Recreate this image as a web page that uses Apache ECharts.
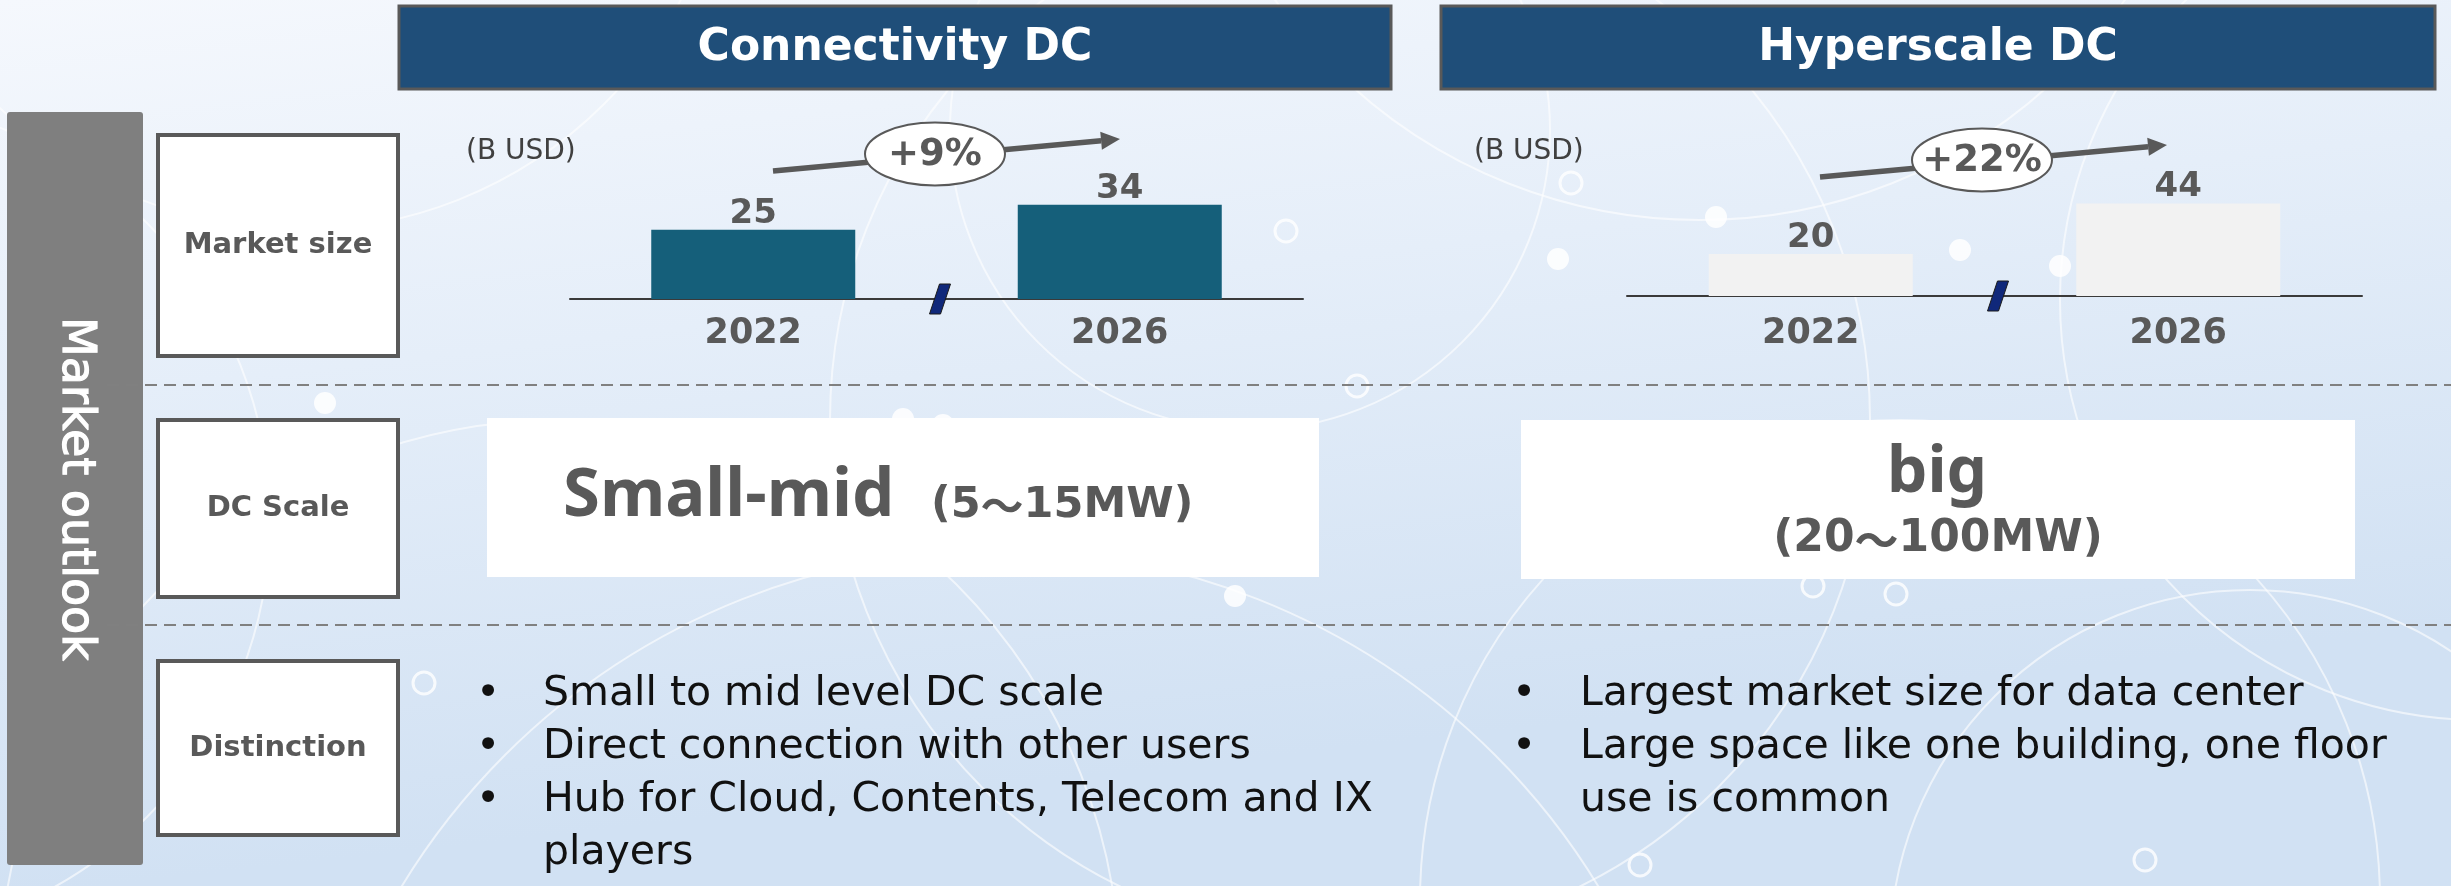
<!DOCTYPE html>
<html><head><meta charset="utf-8">
<script src="https://cdn.jsdelivr.net/npm/echarts@6/dist/echarts.min.js"></script>
<style>html,body{margin:0;padding:0;width:2451px;height:886px;overflow:hidden}#c{width:2451px;height:886px}</style>
</head><body><div id="c"></div>
<script>
// ---------- data ----------
const years = ['2022', '2026'];
const connectivityValues = [25, 34];
const hyperscaleValues = [20, 44];
const growthLabels = ['+9%', '+22%'];
const panelTitles = ['Connectivity DC', 'Hyperscale DC'];
const rowLabels = ['Market size', 'DC Scale', 'Distinction'];
const sideLabel = 'Market outlook';
const unitLabel = '(B USD)';
const scaleMain = ['Small-mid', 'big'];
const scaleRange = ['(5～15MW)', '(20～100MW)'];
const connectivityBullets = [['Small to mid level DC scale'], ['Direct connection with other users'], ['Hub for Cloud, Contents, Telecom and IX', 'players']];
const hyperscaleBullets = [['Largest market size for data center'], ['Large space like one building, one floor', 'use is common']];

// ---------- layout ----------
const FONT = '"DejaVu Sans", Verdana, sans-serif';
const FONT2 = '"Noto Sans", "Noto Sans CJK JP", sans-serif';
const CJK = '"Noto Sans CJK JP", sans-serif';
const GREY = '#595959';
const grids = [
  {left: 570, width: 733, top: 160.5, height: 138.5},
  {left: 1627, width: 735, top: 191, height: 105}
];

const chart = echarts.init(document.getElementById('c'), null, {renderer: 'canvas'});
const G = [];

// background
G.push({type: 'rect', z: -100, shape: {x: 0, y: 0, width: 2451, height: 886},
  style: {fill: new echarts.graphic.LinearGradient(0, 0, 0.04, 1, [
    {offset: 0, color: '#f5f8fd'}, {offset: 0.45, color: '#e5eef9'}, {offset: 1, color: '#d1e1f3'}])}});

// decorative network circles
const bigCircles = [[1350, 420, 520], [560, 980, 560], [1900, 900, 480], [2480, 300, 420], [300, -200, 430], [1700, -300, 520], [2250, 950, 360], [-150, 520, 420], [1000, 1250, 700], [1250, 130, 300]];
bigCircles.forEach(c => G.push({type: 'circle', z: -90, shape: {cx: c[0], cy: c[1], r: c[2]},
  style: {fill: 'none', stroke: 'rgba(255,255,255,0.6)', lineWidth: 2}}));
const rings = [[1286, 231], [1357, 386], [424, 683], [1813, 586], [1896, 594], [2145, 860], [1571, 183], [1640, 865]];
rings.forEach(c => G.push({type: 'circle', z: -89, shape: {cx: c[0], cy: c[1], r: 11},
  style: {fill: 'none', stroke: 'rgba(255,255,255,0.8)', lineWidth: 3}}));
const dots = [[325, 403], [903, 419], [943, 425], [1558, 259], [1716, 217], [1960, 250], [2060, 266], [1235, 596]];
dots.forEach(c => G.push({type: 'circle', z: -89, shape: {cx: c[0], cy: c[1], r: 11},
  style: {fill: 'rgba(255,255,255,0.85)'}}));

// headers
const headerBoxes = [[399, 1391], [1441, 2435]];
headerBoxes.forEach((b, i) => {
  G.push({type: 'rect', z: 5, shape: {x: b[0], y: 6, width: b[1] - b[0], height: 83},
    style: {fill: '#1f4e79', stroke: GREY, lineWidth: 3}});
  G.push({type: 'text', z: 6, style: {text: panelTitles[i], x: (b[0] + b[1]) / 2, y: 49,
    fill: '#ffffff', font: 'bold 44px ' + FONT, align: 'center', verticalAlign: 'middle', textAlign: 'center', textVerticalAlign: 'middle'}});
});

// side bar
G.push({type: 'rect', z: 5, shape: {x: 7, y: 112, width: 136, height: 753, r: 3}, style: {fill: '#7f7f7f'}});
G.push({type: 'text', z: 6, x: 75, y: 489, rotation: -Math.PI / 2,
  style: {text: sideLabel, x: 0, y: 0, fill: '#ffffff', stroke: '#ffffff', lineWidth: 1.2, font: '46px ' + FONT, align: 'center', verticalAlign: 'middle', textAlign: 'center', textVerticalAlign: 'middle'}});

// dashed separators
[385, 625].forEach(y => G.push({type: 'line', z: 7, shape: {x1: 107, y1: y, x2: 2451, y2: y},
  style: {stroke: '#808080', lineWidth: 2, lineDash: [12, 7]}}));

// row label boxes
const rowBoxes = [[135, 356], [420, 597], [661, 835]];
rowBoxes.forEach((b, i) => {
  G.push({type: 'rect', z: 5, shape: {x: 158, y: b[0], width: 240, height: b[1] - b[0]},
    style: {fill: '#ffffff', stroke: GREY, lineWidth: 4}});
  G.push({type: 'text', z: 6, style: {text: rowLabels[i], x: 278, y: (b[0] + b[1]) / 2,
    fill: GREY, font: 'bold 29px ' + FONT, align: 'center', verticalAlign: 'middle', textAlign: 'center', textVerticalAlign: 'middle'}});
});

// unit labels
[[466, 152], [1474, 152]].forEach(p => G.push({type: 'text', z: 6, style: {text: unitLabel, x: p[0], y: p[1],
  fill: '#404040', font: '28px ' + FONT, align: 'left', verticalAlign: 'middle', textAlign: 'left', textVerticalAlign: 'middle'}}));

// growth arrows with ellipse
function arrow(x1, y1, x2, y2) {
  const a = Math.atan2(y2 - y1, x2 - x1), L = 19, W = 9;
  const bx = x2 - L * Math.cos(a), by = y2 - L * Math.sin(a);
  const nx = -Math.sin(a), ny = Math.cos(a);
  G.push({type: 'line', z: 8, shape: {x1: x1, y1: y1, x2: bx, y2: by}, style: {stroke: GREY, lineWidth: 5.5}});
  G.push({type: 'polygon', z: 8, shape: {points: [[x2, y2], [bx + nx * W, by + ny * W], [bx - nx * W, by - ny * W]]}, style: {fill: GREY}});
}
const arrows = [[773, 171, 1120, 139, 935, 154], [1820, 177, 2167, 145, 1982, 160]];
arrows.forEach((a, i) => {
  arrow(a[0], a[1], a[2], a[3]);
  G.push({type: 'ellipse', z: 9, shape: {cx: a[4], cy: a[5], rx: 70, ry: 31.5}, style: {fill: '#ffffff', stroke: GREY, lineWidth: 2}});
  G.push({type: 'text', z: 10, style: {text: growthLabels[i], x: a[4], y: a[5] + 1, fill: GREY,
    font: 'bold 37px ' + FONT, align: 'center', verticalAlign: 'middle', textAlign: 'center', textVerticalAlign: 'middle'}});
});

// axis break marks (midpoint of each axis)
grids.forEach(g => {
  const cx = g.left + g.width / 2, cy = g.top + g.height;
  G.push({type: 'polygon', z: 20, shape: {points: [[cx + 3, cy - 15], [cx + 14, cy - 15], [cx + 4, cy + 15], [cx - 7, cy + 15]]},
    style: {fill: '#10287a', stroke: '#1a1a1a', lineWidth: 1}});
});

// range text with a wide CJK wave for the full-width tilde
function rangeText(str, x, y, size, align) {
  const parts = str.split('～');
  const base = 'bold ' + size + 'px ' + FONT;
  return {type: 'text', z: 6, style: {
    text: '{a|' + parts[0] + '}{w|～}{a|' + parts[1] + '}', x: x, y: y, align: align, verticalAlign: 'middle',
    textAlign: align, textVerticalAlign: 'middle',
    rich: {a: {font: base, fill: GREY, color: GREY}, w: {font: 'bold ' + size + 'px ' + CJK, fill: GREY, color: GREY}}}};
}

// DC scale boxes
G.push({type: 'rect', z: 5, shape: {x: 487, y: 418, width: 832, height: 159}, style: {fill: '#ffffff'}});
G.push({type: 'text', z: 6, style: {text: scaleMain[0], x: 563, y: 497, fill: GREY,
  font: 'bold 67px ' + FONT2, align: 'left', verticalAlign: 'middle', textAlign: 'left', textVerticalAlign: 'middle'}});
G.push(rangeText(scaleRange[0], 931, 506, 43, 'left'));
G.push({type: 'rect', z: 5, shape: {x: 1521, y: 420, width: 834, height: 159}, style: {fill: '#ffffff'}});
G.push({type: 'text', z: 6, style: {text: scaleMain[1], x: 1937, y: 474, fill: GREY,
  font: 'bold 64px ' + FONT2, align: 'center', verticalAlign: 'middle', textAlign: 'center', textVerticalAlign: 'middle'}});
G.push(rangeText(scaleRange[1], 1938, 540, 44, 'center'));

// bullet lists
function bullets(list, bx, tx) {
  let row = 0;
  list.forEach(item => {
    item.forEach((line, k) => {
      const y = 694 + row * 53;
      if (k === 0) G.push({type: 'text', z: 6, style: {text: '•', x: bx, y: y, fill: '#111',
        font: '41px ' + FONT, align: 'center', verticalAlign: 'middle', textAlign: 'center', textVerticalAlign: 'middle'}});
      G.push({type: 'text', z: 6, style: {text: line, x: tx, y: y, fill: '#111',
        font: '41px ' + FONT, align: 'left', verticalAlign: 'middle', textAlign: 'left', textVerticalAlign: 'middle'}});
      row++;
    });
  });
}
bullets(connectivityBullets, 488, 543);
bullets(hyperscaleBullets, 1524, 1580);

function xAxis(i) {
  return {type: 'category', gridIndex: i, data: years,
    axisLine: {lineStyle: {color: '#3a3a3a', width: 2}}, axisTick: {show: false},
    axisLabel: {fontSize: 35, fontWeight: 'bold', color: GREY, fontFamily: FONT, margin: i === 0 ? 17 : 20}};
}
function yAxis(i) {
  return {type: 'value', gridIndex: i, min: 0, max: 50, show: false, splitLine: {show: false}};
}
function barSeries(i, values, color) {
  return {type: 'bar', xAxisIndex: i, yAxisIndex: i, data: values, barWidth: 204, z: 3,
    itemStyle: {color: color},
    label: {show: true, position: 'top', distance: -1, fontSize: 34, fontWeight: 'bold', color: GREY, fontFamily: FONT}};
}

chart.setOption({
  animation: false,
  backgroundColor: 'transparent',
  grid: grids,
  xAxis: [xAxis(0), xAxis(1)],
  yAxis: [yAxis(0), yAxis(1)],
  series: [barSeries(0, connectivityValues, '#155f7a'), barSeries(1, hyperscaleValues, '#f2f2f2')],
  graphic: {elements: G}
});
</script>
</body></html>
